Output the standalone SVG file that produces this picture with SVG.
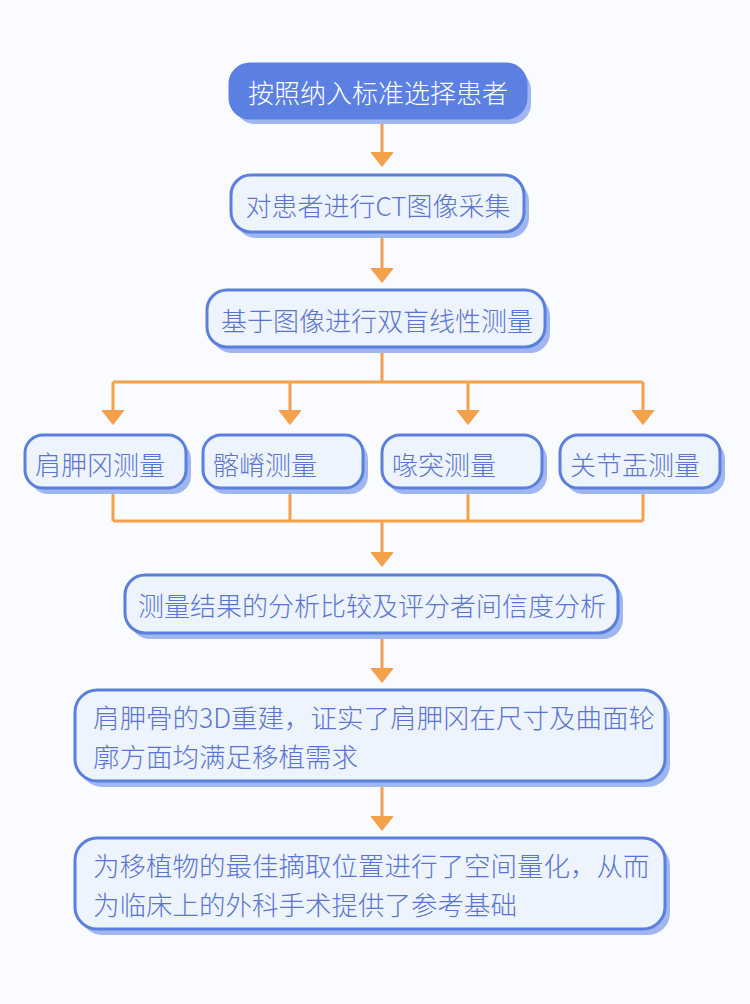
<svg xmlns="http://www.w3.org/2000/svg" width="750" height="1004" viewBox="0 0 750 1004">
<defs>
<style>
.bg{fill:#f9fbfe}
.sh{fill:#a0b6f1}
.box{fill:#eef4fd;stroke:#5b7fdc;stroke-width:3}
.boxd{fill:#5b80e2;stroke:#5b80e2;stroke-width:3}
.t{font-family:"Noto Sans CJK SC","Noto Sans",sans-serif;font-size:26px;font-weight:300;fill:#5a74d6;dominant-baseline:central}
.tl{font-size:26.5px}
.tw{fill:#ffffff}
.c{text-anchor:middle}
.ln{fill:none;stroke:#f5a04b;stroke-width:3}
</style>
<marker id="ah" viewBox="0 0 15 24" refX="5" refY="12" markerWidth="15" markerHeight="24" markerUnits="userSpaceOnUse" orient="auto">
<path d="M0.5,1 L14.5,12 L0.5,23 z" fill="#f5a04b" stroke="#f5a04b" stroke-width="1" stroke-linejoin="round"/>
</marker>
</defs>
<rect class="bg" x="0" y="0" width="750" height="1004"/>
<g id="connectors">
<path class="ln" d="M382,118 V157" marker-end="url(#ah)"/>
<path class="ln" d="M382,232 V273" marker-end="url(#ah)"/>
<path class="ln" d="M382,347 V382"/>
<path class="ln" d="M113,382 H643"/>
<path class="ln" d="M113,382 V415" marker-end="url(#ah)"/>
<path class="ln" d="M290,382 V415" marker-end="url(#ah)"/>
<path class="ln" d="M468,382 V415" marker-end="url(#ah)"/>
<path class="ln" d="M643,382 V415" marker-end="url(#ah)"/>
<path class="ln" d="M113,488 V521 M290,488 V521 M468,488 V521 M643,488 V521"/>
<path class="ln" d="M113,521 H643"/>
<path class="ln" d="M382,521 V557" marker-end="url(#ah)"/>
<path class="ln" d="M382,633 V673" marker-end="url(#ah)"/>
<path class="ln" d="M382,781 V821" marker-end="url(#ah)"/>
</g>
<g id="n1">
<rect class="sh" x="235" y="70" width="296" height="54" rx="20"/>
<rect class="boxd" x="230" y="64" width="296" height="54" rx="20"/>
<text class="t tw c" x="378" y="91">按照纳入标准选择患者</text>
</g>
<g id="n2">
<rect class="sh" x="236" y="181" width="293" height="57" rx="20"/>
<rect class="box" x="231" y="175" width="293" height="57" rx="20"/>
<text class="t c" x="378" y="204">对患者进行CT图像采集</text>
</g>
<g id="n3">
<rect class="sh" x="212" y="296" width="338" height="57" rx="20"/>
<rect class="box" x="207" y="290" width="338" height="57" rx="20"/>
<text class="t c" x="377" y="319">基于图像进行双盲线性测量</text>
</g>
<g id="n4a">
<rect class="sh" x="30" y="441" width="161" height="53" rx="18"/>
<rect class="box" x="25" y="435" width="161" height="53" rx="18"/>
<text class="t" x="35" y="463">肩胛冈测量</text>
</g>
<g id="n4b">
<rect class="sh" x="208" y="441" width="160" height="53" rx="18"/>
<rect class="box" x="203" y="435" width="160" height="53" rx="18"/>
<text class="t" x="213" y="463">髂嵴测量</text>
</g>
<g id="n4c">
<rect class="sh" x="387" y="441" width="160" height="53" rx="18"/>
<rect class="box" x="382" y="435" width="160" height="53" rx="18"/>
<text class="t" x="392" y="463">喙突测量</text>
</g>
<g id="n4d">
<rect class="sh" x="565" y="441" width="160" height="53" rx="18"/>
<rect class="box" x="560" y="435" width="160" height="53" rx="18"/>
<text class="t" x="570" y="463">关节盂测量</text>
</g>
<g id="n5">
<rect class="sh" x="130" y="581" width="493" height="58" rx="20"/>
<rect class="box" x="125" y="575" width="493" height="58" rx="20"/>
<text class="t c" x="372" y="604">测量结果的分析比较及评分者间信度分析</text>
</g>
<g id="n6">
<rect class="sh" x="80" y="696" width="590" height="91" rx="22"/>
<rect class="box" x="75" y="690" width="590" height="91" rx="22"/>
<text class="t tl" x="93" y="716">肩胛骨的3D重建，证实了肩胛冈在尺寸及曲面轮</text>
<text class="t tl" x="93" y="755">廓方面均满足移植需求</text>
</g>
<g id="n7">
<rect class="sh" x="80" y="844" width="590" height="91" rx="22"/>
<rect class="box" x="75" y="838" width="590" height="91" rx="22"/>
<text class="t tl" x="93" y="864">为移植物的最佳摘取位置进行了空间量化，从而</text>
<text class="t tl" x="93" y="903">为临床上的外科手术提供了参考基础</text>
</g>
</svg>
